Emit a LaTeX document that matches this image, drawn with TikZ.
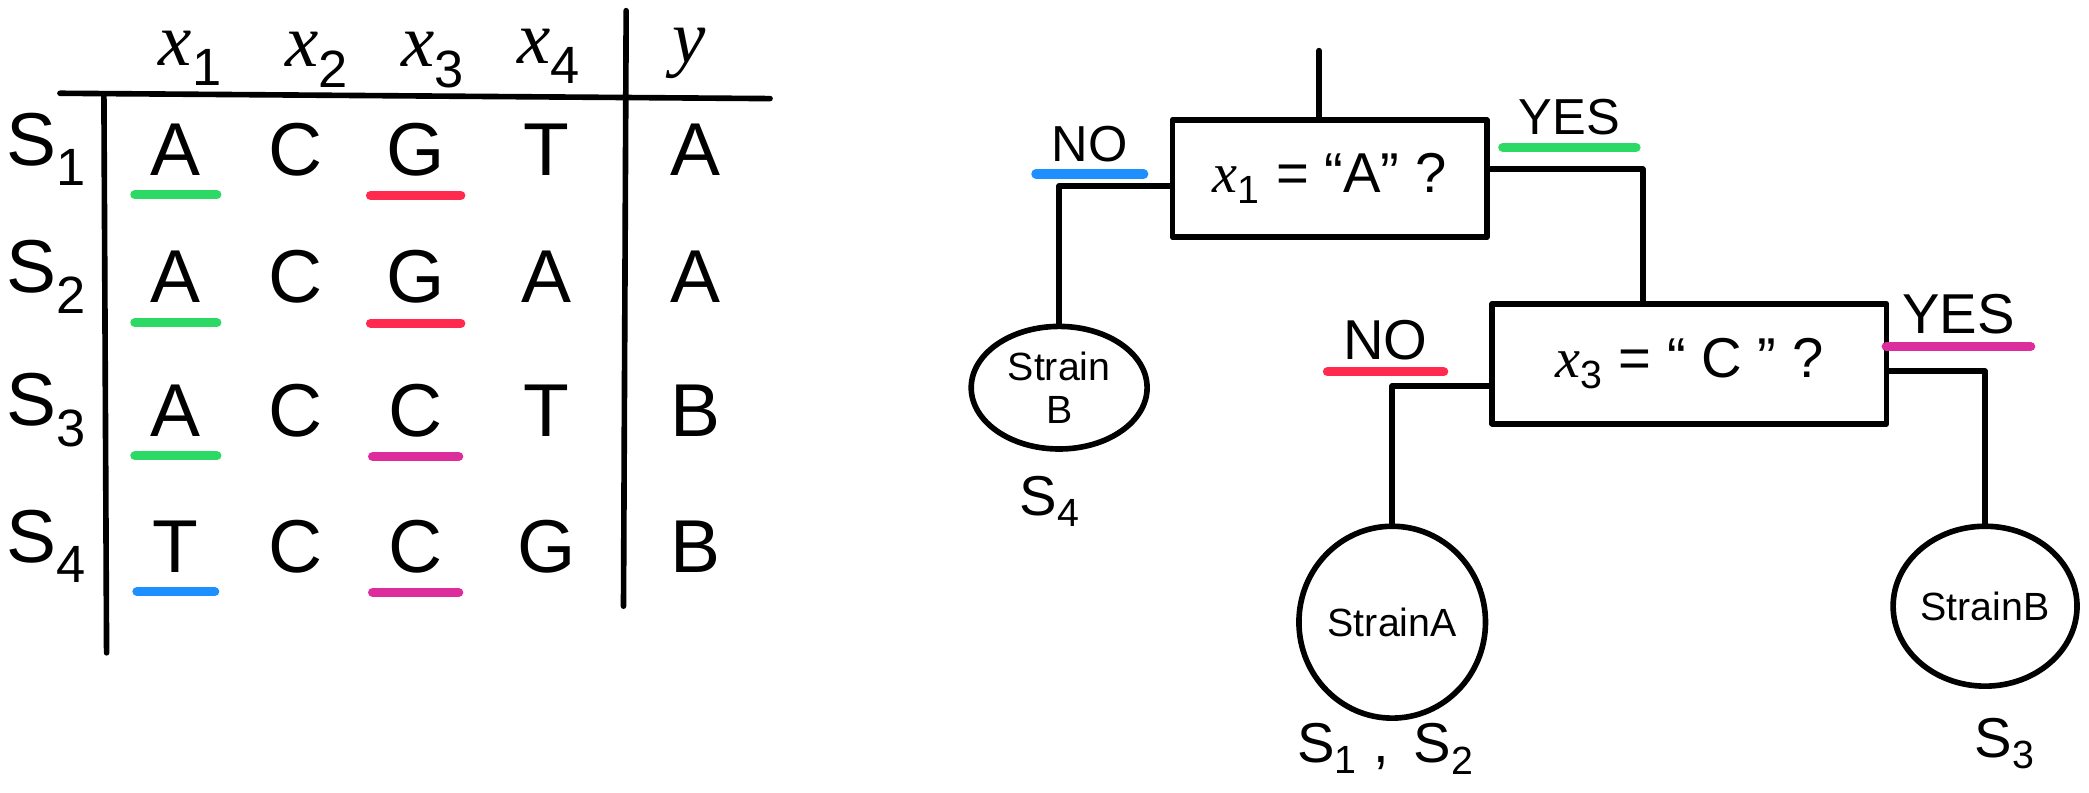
\documentclass[tikz,border=0pt]{standalone}
\usepackage{fontspec}
\setmainfont{Liberation Sans}
\newfontfamily\varfont{Liberation Serif}
\newcommand{\xv}[1]{{\varfont\itshape x}\textsubscript{#1}}
\usetikzlibrary{shapes.geometric,calc}

\definecolor{ugreen}{HTML}{2BD964}
\definecolor{ured}{HTML}{FF2A4D}
\definecolor{upink}{HTML}{DD2C9C}
\definecolor{ublue}{HTML}{1E8FFF}

\begin{document}
\begin{tikzpicture}[x=0.025cm, y=-0.025cm, line width=3pt, line cap=round, line join=round,
  cell/.style={font=\fontsize{40}{44}\selectfont, inner sep=1pt},
  head/.style={font=\fontsize{40}{44}\selectfont, inner sep=1pt},
  uline/.style={line width=5pt, shorten <=-6pt, shorten >=-6pt},
  test/.style={draw, rectangle, font=\fontsize{30}{34}\selectfont},
  leaf/.style={draw, ellipse, inner sep=0pt, font=\fontsize{21}{23}\selectfont, align=center},
  ans/.style={font=\fontsize{27}{30}\selectfont, inner sep=1pt},
  samp/.style={font=\fontsize{30}{32}\selectfont, inner sep=1pt}]

\useasboundingbox (0,0) rectangle (1568,595);

% table
\draw (45,70) -- (578,74);
\draw (78,71) -- (80,490);
\draw (470,8) -- (468,455);

\node[head] (hx1) at (143,44) {\xv{1}};
\node[head] (hx2) at (238,45) {\xv{2}};
\node[head] (hx3) at (325,45) {\xv{3}};
\node[head] (hx4) at (412,42) {\xv{4}};
\node[head] (hy) at (517,40) {\varfont\itshape y};

\foreach \row/\yy/\ga/\gb/\gc/\gd/\lab in {1/112/A/C/G/T/A, 2/208/A/C/G/A/A, 3/308/A/C/C/T/B, 4/410/T/C/C/G/B} {
  \node[cell] (s\row) at (35,\yy) {S\textsubscript{\row}};
  \node[cell] (r\row c1) at (132,\yy) {\ga};
  \node[cell] (r\row c2) at (222,\yy) {\gb};
  \node[cell] (r\row c3) at (312,\yy) {\gc};
  \node[cell] (r\row c4) at (410,\yy) {\gd};
  \node[cell] (r\row y) at (522,\yy) {\lab};
}

% colour marks
\foreach \n/\col in {r1c1/ugreen, r2c1/ugreen, r3c1/ugreen, r4c1/ublue,
                     r1c3/ured, r2c3/ured, r3c3/upink, r4c3/upink}
  \draw[uline, \col] ([yshift=-8pt]\n.south west) -- ([yshift=-8pt]\n.south east);

% tree
\node[test, minimum width=5.9cm, minimum height=2.2cm] (q1) at (998,134) {\xv{1} = “A” ?};
\node[test, minimum width=7.4cm, minimum height=2.25cm] (q2) at (1268,273) {\xv{3} = “ C ” ?};
\node[leaf, minimum width=3.3cm, minimum height=2.3cm] (l4) at (795,291) {Strain\\B};
\node[leaf, minimum width=3.5cm, minimum height=3.6cm] (la) at (1045,467) {StrainA};
\node[leaf, minimum width=3.45cm, minimum height=3cm] (lb) at (1490,455) {StrainB};

\coordinate (root) at (990,38);
\coordinate (q2in) at ($(q2.north)+(-35,0)$);
\draw (root) -- (root |- q1.north);
\draw ([yshift=-4pt]q1.west) -| (l4.north);
\draw ([yshift=5pt]q1.east) -| (q2in);
\draw ([yshift=-12pt]q2.west) -| (la.north);
\draw ([yshift=-4pt]q2.east) -| (lb.north);

\node[ans] (no1) at (818,108) {NO};
\node[ans] (yes1) at (1178,88) {YES};
\node[ans, font=\fontsize{30}{32}\selectfont] (no2) at (1040,255) {NO};
\node[ans, font=\fontsize{30}{32}\selectfont] (yes2) at (1470,236) {YES};
\foreach \n/\col in {no1/ublue, yes1/ugreen, no2/ured, yes2/upink}
  \draw[uline, \col] ([yshift=-4pt]\n.south west) -- ([yshift=-4pt]\n.south east);

\node[samp] (n4) at (788,376) {S\textsubscript{4}};
\node[samp] (na) at (1040,562) {S\textsubscript{1} ,\, S\textsubscript{2}};
\node[samp] (nb) at (1505,558) {S\textsubscript{3}};
\end{tikzpicture}
\end{document}
